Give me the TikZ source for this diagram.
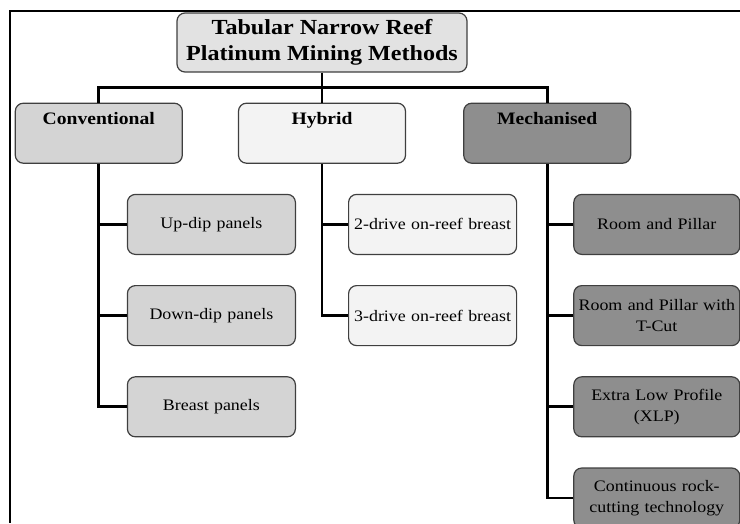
\documentclass[tikz,border=0pt]{standalone}
\usepackage{fontspec}
\setmainfont{Liberation Serif}[FakeStretch=1.12]
\usetikzlibrary{positioning}
\definecolor{rootgray}{HTML}{E2E2E2}
\definecolor{convgray}{HTML}{D4D4D4}
\definecolor{hybgray}{HTML}{F3F3F3}
\definecolor{mechgray}{HTML}{8E8E8E}
\definecolor{edgegray}{HTML}{3F3F3F}

\begin{document}
\begin{tikzpicture}[
	box/.style={draw=edgegray, line width=1.2pt, rounded corners=8pt, minimum width=168pt, minimum height=60pt, inner sep=3pt, align=center},
	rootbox/.style={box, fill=rootgray, minimum width=290pt, minimum height=59pt, font=\bfseries\fontsize{21.5}{26}\selectfont},
	headbox/.style={box, minimum width=167pt, text height=16pt, text depth=34pt, inner ysep=5pt, font=\bfseries\fontsize{17.5}{21}\selectfont},
	leafbox/.style={box, text width=160pt, font=\fontsize{16}{21}\selectfont},
	link/.style={line width=2.8pt},
	]
	\useasboundingbox (0,0) rectangle (740pt,-523pt);
	\coordinate (tr) at (740pt,-11pt);
	\coordinate (tl) at (10pt,-11pt);
	\coordinate (bl) at (10pt,-523pt);
	\draw[line width=2.8pt] (tr) -- (tl) -- (bl);

	\node[rootbox] (root) at (322pt,-42.5pt) {Tabular Narrow Reef\\Platinum Mining Methods};
	\node[headbox, fill=hybgray, below=30pt of root] (hyb) {Hybrid};
	\node[headbox, fill=convgray, left=55pt of hyb] (conv) {Conventional};
	\node[headbox, fill=mechgray, right=57pt of hyb] (mech) {Mechanised};

	\node[leafbox, fill=convgray, below right=30pt and 28pt of conv.south] (updip) {Up-dip panels};
	\node[leafbox, fill=convgray, below=30pt of updip] (downdip) {Down-dip panels};
	\node[leafbox, fill=convgray, below=30pt of downdip] (breast) {Breast panels};

	\node[leafbox, fill=hybgray, below right=30pt and 26pt of hyb.south] (twodrive) {2-drive on-reef breast};
	\node[leafbox, fill=hybgray, below=30pt of twodrive] (threedrive) {3-drive on-reef breast};

	\node[leafbox, fill=mechgray, minimum width=166pt, below right=30pt and 26pt of mech.south] (rp) {Room and Pillar};
	\node[leafbox, fill=mechgray, minimum width=166pt, below=30pt of rp] (rpt) {Room and Pillar with\\T-Cut};
	\node[leafbox, fill=mechgray, minimum width=166pt, below=30pt of rpt] (xlp) {Extra Low Profile\\(XLP)};
	\node[leafbox, fill=mechgray, minimum width=166pt, below=30pt of xlp] (crc) {Continuous rock-\\cutting technology};

	\draw[link] (root.south) -- ++(0,-15pt) coordinate (bus);
	\draw[link] (conv.north) |- (bus) -| (mech.north);
	\draw[link] (bus) -- (hyb.north);

	\draw[link] (conv.south) |- (breast.west);
	\draw[link] (hyb.south) |- (threedrive.west);
	\draw[link] (mech.south) |- (crc.west);
	\foreach \c/\p in {updip/conv, downdip/conv, twodrive/hyb, rp/mech, rpt/mech, xlp/mech}
		\draw[link] (\c.west) -- (\c.west -| \p.south);
\end{tikzpicture}
\end{document}
